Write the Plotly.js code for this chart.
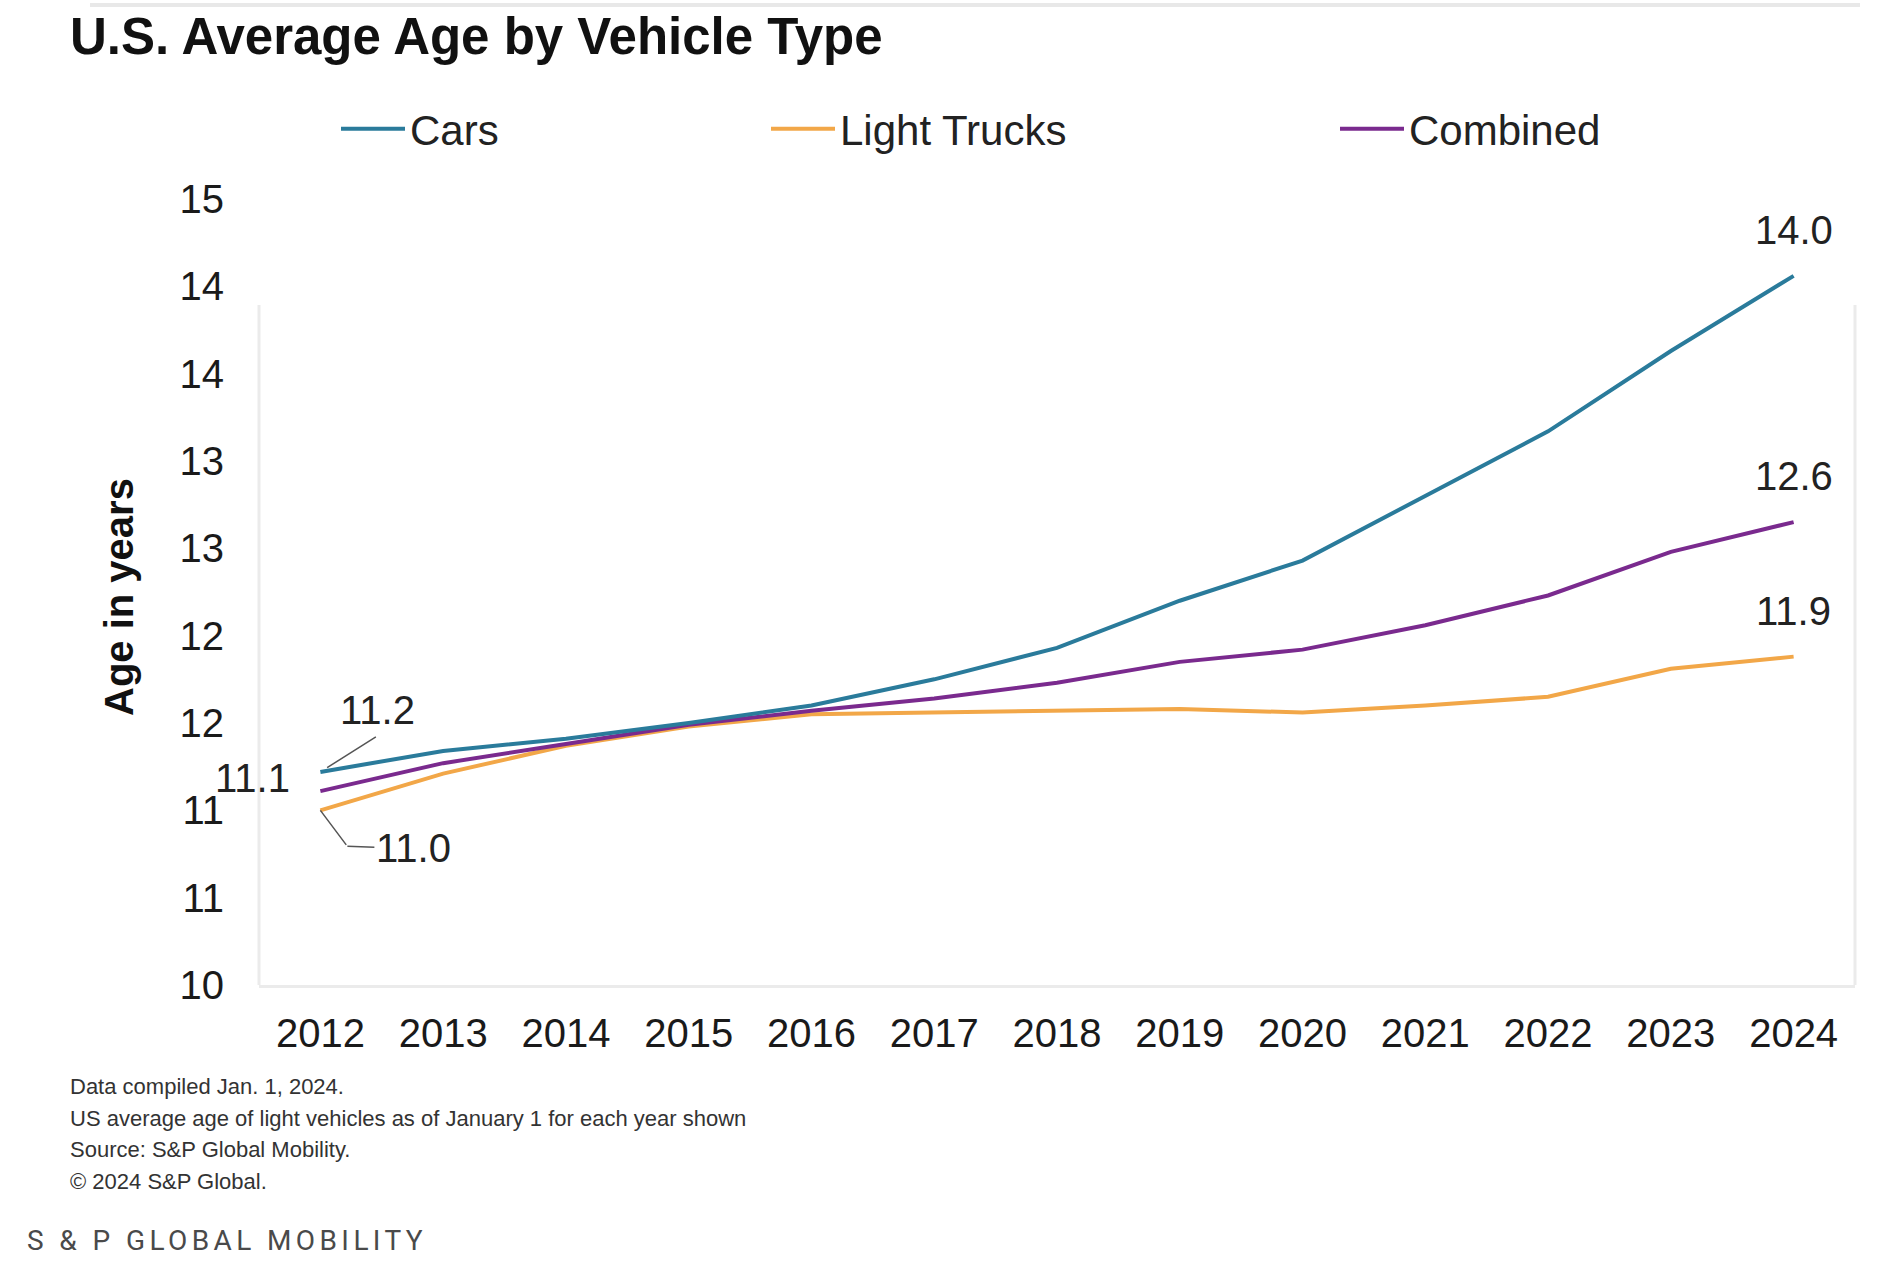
<!DOCTYPE html>
<html>
<head>
<meta charset="utf-8">
<script src="https://cdn.plot.ly/plotly-3.0.1.min.js"></script>
<style>
  html, body { margin: 0; padding: 0; background: #ffffff; }
  #chart { width: 1897px; height: 1280px; }
</style>
</head>
<body>
<div id="chart"></div>
<script>
// ---- data ----
const years = [2012, 2013, 2014, 2015, 2016, 2017, 2018, 2019, 2020, 2021, 2022, 2023, 2024];
const cars = [11.22, 11.34, 11.41, 11.50, 11.60, 11.75, 11.93, 12.20, 12.43, 12.80, 13.17, 13.63, 14.06];
const lightTrucks = [11.00, 11.21, 11.37, 11.48, 11.55, 11.56, 11.57, 11.58, 11.56, 11.60, 11.65, 11.81, 11.88];
const combined = [11.11, 11.27, 11.38, 11.49, 11.57, 11.64, 11.73, 11.85, 11.92, 12.06, 12.23, 12.48, 12.65];

const seriesNames = ['Cars', 'Light Trucks', 'Combined'];
const seriesColors = ['#2a7b9b', '#f2a748', '#7a2a8e'];

const yTickVals = [10, 10.5, 11, 11.5, 12, 12.5, 13, 13.5, 14, 14.5];
const yTickText = ['10', '11', '11', '12', '12', '13', '13', '14', '14', '15'];

const startLabels = ['11.2', '11.0', '11.1'];   // cars, light trucks, combined (2012)
const endLabels = ['14.0', '11.9', '12.6'];     // cars, light trucks, combined (2024)

const titleText = 'U.S. Average Age by Vehicle Type';
const yTitleText = 'Age in years';
const footnotes = [
  'Data compiled Jan. 1, 2024.',
  'US average age of light vehicles as of January 1 for each year shown',
  'Source: S&amp;P Global Mobility.',
  '© 2024 S&amp;P Global.'
];
const brandText = 'S &amp; P GLOBAL MOBILITY';

// ---- layout helpers (pixel geometry of the page) ----
const W = 1897, H = 1280;
const M = { l: 259, r: 42, t: 199, b: 295 };
const PW = W - M.l - M.r, PH = H - M.t - M.b;
const px2x = p => (p - M.l) / PW;
const py2y = p => (H - M.b - p) / PH;

const FONT = '"Liberation Sans", Arial, Helvetica, sans-serif';
const seriesData = [cars, lightTrucks, combined];
const legendIds = ['legend', 'legend2', 'legend3'];
const legendStarts = [346, 776, 1345];

const traces = seriesData.map((vals, i) => ({
  type: 'scatter',
  mode: 'lines',
  name: seriesNames[i],
  x: years,
  y: vals,
  line: { color: seriesColors[i], width: 4 },
  legend: legendIds[i],
  hoverinfo: 'skip'
}));
// draw order: light trucks at back, then combined, then cars
const ordered = [traces[1], traces[2], traces[0]];

const last = years.length - 1;
const annotations = [];

// end labels (2024)
seriesData.forEach((vals, i) => {
  annotations.push({
    x: years[last], y: vals[last], xref: 'x', yref: 'y',
    text: endLabels[i], showarrow: false, yshift: 46,
    font: { family: FONT, size: 40, color: '#222222' }
  });
});

// 2012 labels
const lblFont = { family: FONT, size: 40, color: '#222222' };
// Cars 11.2 : leader + text
annotations.push({
  x: years[0], y: cars[0], xref: 'x', yref: 'y', text: '',
  showarrow: true, arrowhead: 0, arrowwidth: 1.5, arrowcolor: '#555555',
  ax: 57, ay: -36, standoff: 8
});
annotations.push({
  x: years[0], y: cars[0], xref: 'x', yref: 'y', text: startLabels[0],
  showarrow: false, xshift: 57, yshift: 62, font: lblFont
});
// Combined 11.1
annotations.push({
  x: years[0], y: combined[0], xref: 'x', yref: 'y', text: startLabels[2],
  showarrow: false, xshift: -68, yshift: 13, font: lblFont
});
// Light trucks 11.0 : elbow leader + text
annotations.push({
  x: years[0], y: lightTrucks[0], xref: 'x', yref: 'y', text: '',
  showarrow: true, arrowhead: 0, arrowwidth: 1.5, arrowcolor: '#555555',
  ax: 27, ay: 36
});
annotations.push({
  x: years[0], y: lightTrucks[0], xref: 'x', yref: 'y', text: startLabels[1],
  showarrow: true, arrowhead: 0, arrowwidth: 1.5, arrowcolor: '#555555',
  xshift: 27, yshift: -36, ax: 66, ay: 2, font: lblFont
});

// y axis title
annotations.push({
  xref: 'paper', yref: 'paper', x: px2x(119), y: py2y(597),
  xanchor: 'center', yanchor: 'middle', textangle: -90, showarrow: false,
  text: '<b>' + yTitleText + '</b>',
  font: { family: FONT, size: 40, color: '#111111' }
});

// footnotes
const footY = [1086, 1118, 1149, 1181];
footnotes.forEach((t, i) => {
  annotations.push({
    xref: 'paper', yref: 'paper', x: px2x(68), y: py2y(footY[i]),
    xanchor: 'left', yanchor: 'middle', showarrow: false, text: t,
    font: { family: FONT, size: 22, color: '#333333' }
  });
});
// brand line
annotations.push({
  xref: 'paper', yref: 'paper', x: px2x(27), y: py2y(1240),
  xanchor: 'left', yanchor: 'middle', showarrow: false, text: brandText,
  font: { family: 'Roboto, "Liberation Sans", sans-serif', size: 28, color: '#4a4a4a' }
});

const frameColor = '#ebebeb';
const shapes = [
  { type: 'line', xref: 'paper', yref: 'paper', x0: 0, x1: 0, y0: 0, y1: py2y(305), line: { color: frameColor, width: 3 } },
  { type: 'line', xref: 'paper', yref: 'paper', x0: 1, x1: 1, y0: 0, y1: py2y(305), line: { color: frameColor, width: 3 } },
  { type: 'line', xref: 'paper', yref: 'paper', x0: px2x(90), x1: px2x(1860), y0: py2y(5), y1: py2y(5), line: { color: '#e8e8e8', width: 4 } }
];

const legendBase = {
  orientation: 'h', xanchor: 'left', yanchor: 'middle', y: py2y(129),
  font: { family: FONT, size: 42, color: '#222222' },
  bgcolor: 'rgba(0,0,0,0)', borderwidth: 0, itemwidth: 64
};

const layout = {
  width: W, height: H,
  margin: M,
  paper_bgcolor: '#ffffff', plot_bgcolor: '#ffffff',
  showlegend: true,
  legend: Object.assign({}, legendBase, { x: px2x(legendStarts[0] - 10) }),
  legend2: Object.assign({}, legendBase, { x: px2x(legendStarts[1] - 10) }),
  legend3: Object.assign({}, legendBase, { x: px2x(legendStarts[2] - 10) }),
  title: {
    text: '<b>' + titleText + '</b>',
    xref: 'container', yref: 'container',
    x: 70 / W, xanchor: 'left', y: 1 - 36 / H, yanchor: 'middle',
    font: { family: FONT, size: 51, color: '#111111' }
  },
  xaxis: {
    range: [2011.5, 2024.5], tickmode: 'array', tickvals: years, ticktext: years.map(String),
    showgrid: false, zeroline: false, showline: true, linecolor: frameColor, linewidth: 3,
    ticks: '', ticklabelstandoff: 11,
    tickfont: { family: FONT, size: 40, color: '#1a1a1a' }, fixedrange: true
  },
  yaxis: {
    range: [10, 14.5], tickmode: 'array', tickvals: yTickVals, ticktext: yTickText,
    showgrid: false, zeroline: false, showline: false,
    ticks: '', ticklabelstandoff: 34,
    tickfont: { family: FONT, size: 40, color: '#1a1a1a' }, fixedrange: true
  },
  annotations: annotations,
  shapes: shapes,
  hovermode: false
};

Plotly.newPlot('chart', ordered, layout, { staticPlot: true, displayModeBar: false }).then(() => {
  const host = document.getElementById('chart').getBoundingClientRect();
  document.querySelectorAll('#chart text.annotation-text').forEach(el => {
    if (el.textContent.indexOf('GLOBAL MOBILITY') >= 0) {
      el.style.letterSpacing = '4.4px';
      const r = el.getBoundingClientRect();
      const dx = 27 - (r.left - host.left);
      el.setAttribute('transform', 'translate(' + dx + ',0)');
    }
  });
});
</script>
</body>
</html>
